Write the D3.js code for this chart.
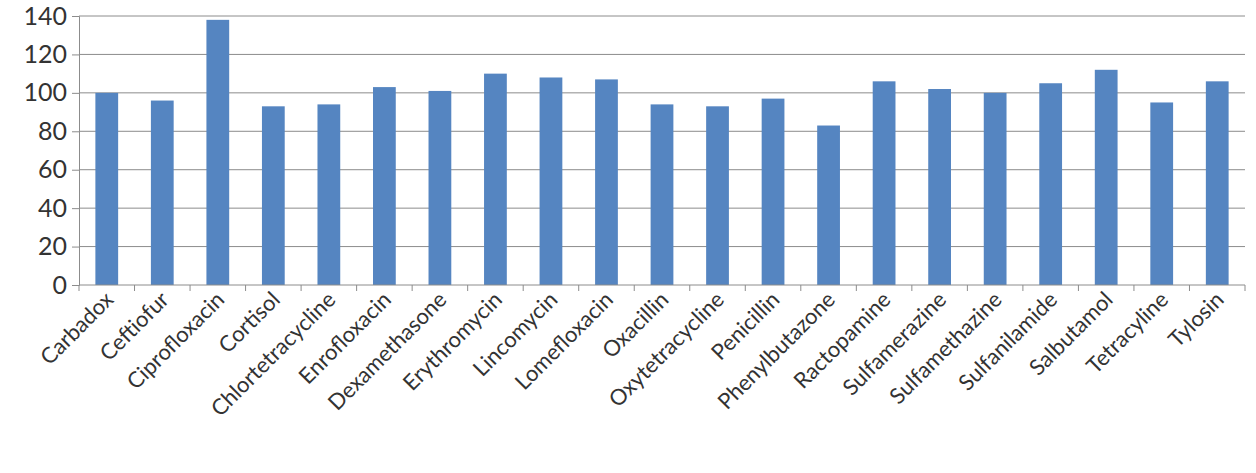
<!DOCTYPE html>
<html><head><meta charset="utf-8">
<script src="https://cdn.jsdelivr.net/npm/d3@7"></script>
<style>body{margin:0;background:#fff;font-family:Lato,"Open Sans",sans-serif;}</style>
</head><body><div id="chart"></div>
<script>
const drugs = ["Carbadox","Ceftiofur","Ciprofloxacin","Cortisol","Chlortetracycline","Enrofloxacin","Dexamethasone","Erythromycin","Lincomycin","Lomefloxacin","Oxacillin","Oxytetracycline","Penicillin","Phenylbutazone","Ractopamine","Sulfamerazine","Sulfamethazine","Sulfanilamide","Salbutamol","Tetracyline","Tylosin"];
const recovery = [100,96,138,93,94,103,101,110,108,107,94,93,97,83,106,102,100,105,112,95,106];
const yTicks = [0,20,40,60,80,100,120,140];

const width = 1256, height = 473;
const margin = { top: 16, right: 11, bottom: 188, left: 79 };
const innerW = width - margin.left - margin.right;
const innerH = height - margin.top - margin.bottom;

const svg = d3.select("#chart").append("svg")
    .attr("width", width).attr("height", height);
const g = svg.append("g").attr("transform", `translate(${margin.left},${margin.top})`);

const x = d3.scaleBand().domain(drugs).range([0, innerW]).paddingInner(0.59).paddingOuter(0.295);
const y = d3.scaleLinear().domain([0, 140]).range([innerH, 0]);

// gridlines
g.selectAll(".grid").data(yTicks.slice(1)).enter().append("line")
    .attr("x1", 0).attr("x2", innerW)
    .attr("y1", d => y(d)).attr("y2", d => y(d))
    .attr("stroke", "#8c8c8c").attr("stroke-width", 1);

// bars
g.selectAll(".bar").data(drugs).enter().append("rect")
    .attr("x", d => x(d)).attr("width", x.bandwidth())
    .attr("y", (d, i) => y(recovery[i]))
    .attr("height", (d, i) => innerH - y(recovery[i]))
    .attr("fill", "#5585c1");

// y axis
const yAxis = g.append("g").call(d3.axisLeft(y).tickValues(yTicks).tickSize(7).tickPadding(5));
yAxis.select(".domain").attr("stroke", "#8c8c8c");
yAxis.selectAll(".tick line").attr("stroke", "#8c8c8c");
yAxis.selectAll("text").attr("font-size", 25).attr("fill", "#333").attr("font-family", "Lato, sans-serif");

// x axis line with boundary ticks
const step = x.step();
const xAxis = g.append("g").attr("transform", `translate(0,${innerH})`);
xAxis.append("line").attr("x1", 0).attr("x2", innerW).attr("stroke", "#8c8c8c");
xAxis.selectAll(".bt").data(d3.range(drugs.length + 1)).enter().append("line")
    .attr("x1", i => i * step).attr("x2", i => i * step)
    .attr("y1", 0).attr("y2", 6).attr("stroke", "#8c8c8c");
xAxis.selectAll(".lab").data(drugs).enter().append("text")
    .attr("transform", d => `translate(${x(d) + x.bandwidth() / 2 + 8},${16}) rotate(-45)`)
    .attr("text-anchor", "end")
    .attr("font-size", 22).attr("fill", "#333")
    .text(d => d);
</script></body></html>
